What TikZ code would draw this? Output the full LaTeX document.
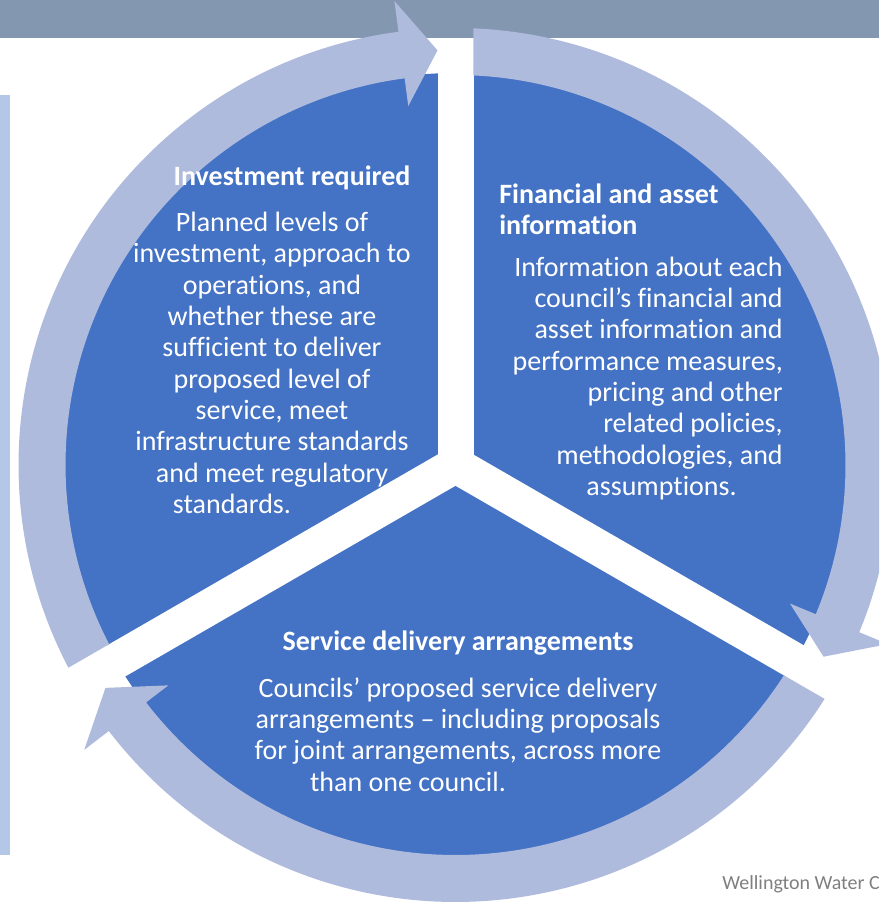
\documentclass[tikz,border=0pt]{standalone}
\usepackage{fontspec}
\setmainfont{Carlito}[Ligatures=NoCommon]
\usepackage{xcolor}
\usepackage{tikz}
\usetikzlibrary{calc}

\definecolor{pieblue}{HTML}{4472C4}
\definecolor{ringblue}{HTML}{AFBBDD}
\definecolor{bannergrey}{HTML}{8497B0}
\definecolor{barblue}{HTML}{B4C7E7}
\definecolor{notegrey}{HTML}{7F7F7F}

% one piece of the ring: starts after gap #1, ends with a head at gap #2
\newcommand{\cyclearrow}[2]{%
  \fill[ring] ({#1-asin(18/437)}:437)
    arc[start angle={#1-asin(18/437)}, end angle={#2+7.5}, radius=437]
    -- ({#2+7.5}:468) -- ({#2+asin(18/415)}:415) -- ({#2+7.5}:362)
    -- ({#2+7.5}:390)
    arc[start angle={#2+7.5}, end angle={#1-asin(18/390)}, radius=390]
    -- cycle;}

\begin{document}
\begin{tikzpicture}[x=0.75pt,y=0.75pt,
  head/.style={text=white,inner sep=0pt,align=center,
               font=\fontsize{21}{23.5}\selectfont\bfseries},
  body/.style={text=white,inner sep=0pt,align=center,
               font=\fontsize{21}{23.5}\selectfont},
  note/.style={text=notegrey,inner sep=0pt,font=\fontsize{15}{18}\selectfont},
  ring/.style={fill=ringblue},
  gap/.style={draw=white,line width=27pt}]
\useasboundingbox (0,0) rectangle (879,904);
\clip (0,0) rectangle (879,904);
\fill[barblue] (0,49) rectangle (10,809);
\fill[bannergrey] (0,866) rectangle (879,904);
\coordinate (c) at (455.5,439);
\fill[pieblue] (c) circle[radius=392];
\draw[gap] (c) -- ++(90:400);
\draw[gap] (c) -- ++(210:400);
\draw[gap] (c) -- ++(330:400);
\begin{scope}[shift={(c)}]
\cyclearrow{210}{90}
\cyclearrow{90}{-30}
\cyclearrow{-30}{-150}
\end{scope}
\node[head] (invtitle) at (292,726) {Investment required};
\node[body] (invtext) at (272,541) {Planned levels of\\ investment, approach to\\
  operations, and\\ whether these are\\ sufficient to deliver\\ proposed level of\\
  service, meet\\ infrastructure standards\\ and meet regulatory\\
  \mbox{standards.\hspace{60pt}}};
\node[head,align=left,anchor=west] (fintitle) at (499,694.5) {Financial and asset\\
  information};
\node[body,align=right,anchor=east] (fintext) at (783,525.5) {Information about each\\
  council’s financial and\\ asset information and\\ performance measures,\\
  pricing and other\\ related policies,\\ methodologies, and\\
  \mbox{assumptions.\hspace{34.5pt}}};
\node[head] (sdtitle) at (458,261) {Service delivery arrangements};
\node[body] (sdtext) at (458,169.5) {Councils’ proposed service delivery\\
  arrangements – including proposals\\ for joint arrangements, across more\\
  \mbox{than one council.\hspace{75pt}}};
\node[note,anchor=west] (credit) at (722,20) {Wellington Water Committee};
\end{tikzpicture}
\end{document}
